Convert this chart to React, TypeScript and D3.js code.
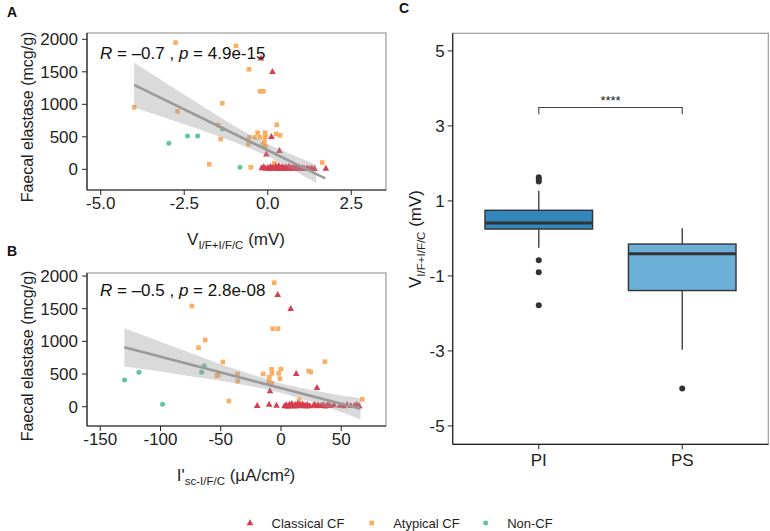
import React from 'react';
import * as d3 from 'd3';

// ---------------- Data ----------------
// Panel A: V (mV) vs faecal elastase (mcg/g)
const classicalA: [number, number][] = [
  [-0.2, 1710], [0.14, 1502], [0.11, 502], [0.35, 286], [-0.04, 231],
  [-0.18, 20], [-0.12, 35], [-0.06, 15], [0.0, 25], [0.04, 10], [0.08, 40], [0.12, 18],
  [0.16, 30], [0.2, 12], [0.24, 45], [0.27, 22], [0.3, 8], [0.33, 55], [0.36, 30],
  [0.4, 15], [0.43, 40], [0.46, 20], [0.5, 10], [0.53, 35], [0.56, 25], [0.6, 12],
  [0.63, 45], [0.66, 20], [0.7, 30], [0.74, 10], [0.78, 38], [0.82, 15], [0.86, 25],
  [0.9, 8], [0.95, 30], [1.0, 15], [1.05, 22], [1.1, 10], [1.18, 20], [1.25, 12],
  [1.32, 18], [1.4, 8], [1.74, 15],
];
const atypicalA: [number, number][] = [
  [-2.76, 1949], [-0.95, 1898], [-0.56, 1539], [-0.23, 1200], [-0.13, 1200],
  [-4.0, 954], [-2.7, 892], [-1.36, 1015], [-1.48, 681], [-1.41, 466], [-1.75, 77],
  [-0.51, 31], [0.2, 92], [1.63, 105], [-0.55, 492], [-0.58, 385], [-0.38, 492],
  [-0.3, 563], [-0.23, 492], [-0.08, 563], [-0.07, 502], [-0.1, 431], [-0.15, 374],
  [-0.07, 358], [0.27, 686], [0.25, 543], [0.37, 523],
];
const nonCfA: [number, number][] = [
  [-2.96, 400], [-2.4, 512], [-2.1, 512], [-1.36, 620], [-0.83, 31],
];
const fitAx = [-4.0, 1.72];
const fitAy = [1298, -139];
const bandAx = [-4, -3, -2, -1, 0, 1, 1.45];
const bandAlo = [952, 781, 606, 422, 204, -80, -210];
const bandAhi = [1644, 1313, 986, 668, 384, 166, 65];

// Panel B: I'sc (µA/cm²) vs faecal elastase (mcg/g)
const classicalB: [number, number][] = [
  [-2.7, 1714], [8.1, 1500], [12.7, 505], [29.9, 291], [-9.1, 240],
  [-19.7, 15], [-9.8, 35], [-3.7, 20],
  [3, 10], [4.5, 25], [6, 5], [7, 35], [8, 15], [9, 45], [10, 20], [11, 8], [12, 30],
  [13, 12], [14, 50], [15, 18], [16, 28], [17, 10], [18, 40], [19, 15], [20, 22],
  [21, 8], [22, 30], [24, 12], [27, 20], [28, 35], [30, 10], [31, 25], [33, 15],
  [35, 30], [37, 8], [39, 40], [41, 15], [44, 25], [49, 20], [52, 10], [55, 30],
  [58, 15], [61, 20], [63, 35], [65, 10],
];
const atypicalB: [number, number][] = [
  [-5.6, 1898], [-73.9, 1541], [-6.9, 1194], [-2.5, 1194], [-62.9, 1021],
  [-68.4, 903], [-48.2, 684], [-53.2, 475], [-52, 490], [-36, 500], [-36, 393],
  [-43.2, 87], [-14.7, 500], [-7.7, 572], [-7.5, 511], [-9.7, 450], [-10, 383],
  [-7.7, 358], [-1.9, 511], [0, 577], [-0.8, 429], [23, 546], [24.7, 531],
  [15.2, 103], [36.5, 689], [67.5, 113], [8, 20], [10, 15],
];
const nonCfB: [number, number][] = [
  [-129.8, 409], [-117.9, 526], [-98.3, 37], [-65.9, 526], [-63.7, 628],
];
const fitBx = [-130, 66];
const fitBy = [909, -32];
const bandBx = [-130, -100, -75, -50, -25, 0, 25, 50, 66];
const bandBlo = [616, 537, 468, 399, 315, 215, 75, -81, -195];
const bandBhi = [1202, 993, 822, 651, 495, 355, 255, 171, 131];

// Panel C: boxplot
const groupsC = ['PI', 'PS'];
const q1C = [0.25, -1.39];
const medianC = [0.41, -0.41];
const q3C = [0.75, -0.15];
const whiskerLoC = [-0.25, -2.97];
const whiskerHiC = [1.27, 0.27];
const outliersC: number[][] = [
  [1.63, 1.57, 1.52, -0.58, -0.9, -1.78],
  [-4.0],
];
const fillC = ['#3288BD', '#6BAED6'];

const yTicksScatter = [0, 500, 1000, 1500, 2000];
const xTicksA = [-5, -2.5, 0, 2.5];
const xTicksB = [-150, -100, -50, 0, 50];
const yTicksC = [-5, -3, -1, 1, 3, 5];

const legendLabels = ['Classical CF', 'Atypical CF', 'Non-CF'];

// ---------------- Styling ----------------
const FONT = '"Liberation Sans", Arial, Helvetica, sans-serif';
const COL = { classical: '#D53E4F', atypical: '#FDAE61', non: '#66C2A5' };
const TXT = '#1e1e1e';

function tri(cx: number, cy: number, s: number) {
  return `M${cx},${cy - s * 0.62}L${cx + s * 0.55},${cy + s * 0.38}L${cx - s * 0.55},${cy + s * 0.38}Z`;
}

function hy(v: string) {
  return v.replace('\u2212', '-');
}

type PanelProps = {
  left: number; right: number; top: number; bottom: number;
  xDomain: [number, number]; yDomain: [number, number];
  xTicks: number[]; xFmt: (v: number) => string;
  classical: [number, number][]; atypical: [number, number][]; non: [number, number][];
  fitX: number[]; fitY: number[]; bandX: number[]; bandLo: number[]; bandHi: number[];
  rText: string; pText: string; annY: number;
};

function ScatterPanel(p: PanelProps) {
  const xs = d3.scaleLinear().domain(p.xDomain).range([p.left, p.right]);
  const ys = d3.scaleLinear().domain(p.yDomain).range([p.bottom, p.top]);
  const band = p.bandX.map((x, i) => ({ x, lo: p.bandLo[i], hi: p.bandHi[i] }));
  const fit = p.fitX.map((x, i) => ({ x, y: p.fitY[i] }));
  const area = d3.area<{ x: number; lo: number; hi: number }>()
    .x(d => xs(d.x)).y0(d => ys(d.lo)).y1(d => ys(d.hi));
  const line = d3.line<{ x: number; y: number }>().x(d => xs(d.x)).y(d => ys(d.y));
  return (
    <g>
      <rect x={p.left} y={p.top} width={p.right - p.left} height={p.bottom - p.top}
        fill="none" stroke="#9a9a9a" strokeWidth={1.2} />
      {p.atypical.map((d, i) => (
        <rect key={'a' + i} x={xs(d[0]) - 2.3} y={ys(d[1]) - 2.3} width={4.6} height={4.6} fill={COL.atypical} />
      ))}
      {p.non.map((d, i) => (
        <circle key={'n' + i} cx={xs(d[0])} cy={ys(d[1])} r={2.5} fill={COL.non} />
      ))}
      {p.classical.map((d, i) => (
        <path key={'c' + i} d={tri(xs(d[0]), ys(d[1]), 6)} fill={COL.classical} />
      ))}
      <path d={area(band) || ''} fill="#9e9e9e" fillOpacity={0.38} />
      <path d={line(fit) || ''} stroke="#9a9a9a" strokeWidth={2.6} fill="none" />
      <line x1={p.left} x2={p.left} y1={p.top} y2={p.bottom} stroke="#222" strokeWidth={1.2} />
      <line x1={p.left} x2={p.right} y1={p.bottom} y2={p.bottom} stroke="#222" strokeWidth={1.2} />
      {yTicksScatter.map(t => (
        <g key={'yt' + t}>
          <line x1={p.left - 5} x2={p.left} y1={ys(t)} y2={ys(t)} stroke="#222" />
          <text x={p.left - 9} y={ys(t) + 6} textAnchor="end" fontSize={17} fill={TXT}>{t}</text>
        </g>
      ))}
      {p.xTicks.map(t => (
        <g key={'xt' + t}>
          <line x1={xs(t)} x2={xs(t)} y1={p.bottom} y2={p.bottom + 5} stroke="#222" />
          <text x={xs(t)} y={p.bottom + 19} textAnchor="middle" fontSize={17} fill={TXT}>{p.xFmt(t)}</text>
        </g>
      ))}
      <text x={100} y={p.annY} fontSize={17} fill="#111">
        <tspan fontStyle="italic">R</tspan>{' = '}{p.rText}{' , '}<tspan fontStyle="italic">p</tspan>{' = '}{p.pText}
      </text>
    </g>
  );
}

function BoxPanel() {
  const left = 452.7, right = 768.3, top = 33.3, bottom = 444.3;
  const xs = d3.scalePoint<string>().domain(groupsC).range([left, right]).padding(0.6);
  const ys = d3.scaleLinear().domain([-5.49, 5.47]).range([bottom, top]);
  const bw = xs.step() * 0.75;
  const sigY = 3.49, sigDrop = 3.31;
  const xPI = xs('PI') as number, xPS = xs('PS') as number;
  return (
    <g>
      <rect x={left} y={top} width={right - left} height={bottom - top} fill="none" stroke="#9a9a9a" strokeWidth={1.2} />
      {groupsC.map((g, i) => {
        const cx = xs(g) as number;
        return (
          <g key={g}>
            <line x1={cx} x2={cx} y1={ys(whiskerHiC[i])} y2={ys(q3C[i])} stroke="#333" strokeWidth={1.3} />
            <line x1={cx} x2={cx} y1={ys(q1C[i])} y2={ys(whiskerLoC[i])} stroke="#333" strokeWidth={1.3} />
            <rect x={cx - bw / 2} y={ys(q3C[i])} width={bw} height={ys(q1C[i]) - ys(q3C[i])}
              fill={fillC[i]} stroke="#333" strokeWidth={1.4} />
            <line x1={cx - bw / 2} x2={cx + bw / 2} y1={ys(medianC[i])} y2={ys(medianC[i])} stroke="#333" strokeWidth={3} />
            {outliersC[i].map((o, j) => (
              <circle key={j} cx={cx} cy={ys(o)} r={3} fill="#333" />
            ))}
          </g>
        );
      })}
      <path d={`M${xPI},${ys(sigDrop)}V${ys(sigY)}H${xPS}V${ys(sigDrop)}`} fill="none" stroke="#444" strokeWidth={1.1} />
      <text x={(xPI + xPS) / 2} y={ys(sigY) - 3} textAnchor="middle" fontSize={13} fill="#222">****</text>
      <line x1={left} x2={left} y1={top} y2={bottom} stroke="#222" strokeWidth={1.2} />
      <line x1={left} x2={right} y1={bottom} y2={bottom} stroke="#222" strokeWidth={1.2} />
      {yTicksC.map(t => (
        <g key={'c' + t}>
          <line x1={left - 5} x2={left} y1={ys(t)} y2={ys(t)} stroke="#222" />
          <text x={left - 8} y={ys(t) + 6} textAnchor="end" fontSize={17} fill={TXT}>{hy(String(t))}</text>
        </g>
      ))}
      {groupsC.map(g => (
        <g key={'x' + g}>
          <line x1={xs(g) as number} x2={xs(g) as number} y1={bottom} y2={bottom + 5} stroke="#222" />
          <text x={xs(g) as number} y={bottom + 22} textAnchor="middle" fontSize={17} fill={TXT}>{g}</text>
        </g>
      ))}
      <text transform={`translate(421,239) rotate(-90)`} textAnchor="middle" fontSize={17} fill={TXT}>
        V<tspan fontSize={11.5} dy={4}>I/F+I/F/C</tspan><tspan dy={-4}> (mV)</tspan>
      </text>
    </g>
  );
}

export default function App() {
  const fmtA = (v: number) => hy(d3.format('.1f')(v));
  const fmtB = (v: number) => hy(d3.format('d')(v));
  const legendX = [250, 371.7, 485.7];
  return (
    <svg width={770} height={531} style={{ position: 'absolute', left: 0, top: 0 }} fontFamily={FONT}>
      <rect width={770} height={531} fill="white" />
      <text x={7} y={17} fontSize={14} fontWeight="bold" fill="#111">A</text>
      <text x={7} y={256} fontSize={14} fontWeight="bold" fill="#111">B</text>
      <text x={399} y={13} fontSize={14} fontWeight="bold" fill="#111">C</text>

      <ScatterPanel left={87} right={386} top={33} bottom={190}
        xDomain={[-5.41, 3.54]} yDomain={[-318, 2097]} xTicks={xTicksA} xFmt={fmtA}
        classical={classicalA} atypical={atypicalA} non={nonCfA}
        fitX={fitAx} fitY={fitAy} bandX={bandAx} bandLo={bandAlo} bandHi={bandAhi}
        rText={'\u20130.7'} pText="4.9e-15" annY={59} />
      <ScatterPanel left={87} right={386} top={273} bottom={426}
        xDomain={[-161, 87.2]} yDomain={[-295, 2046]} xTicks={xTicksB} xFmt={fmtB}
        classical={classicalB} atypical={atypicalB} non={nonCfB}
        fitX={fitBx} fitY={fitBy} bandX={bandBx} bandLo={bandBlo} bandHi={bandBhi}
        rText={'\u20130.5'} pText="2.8e-08" annY={296} />

      <text transform="translate(33,117) rotate(-90)" textAnchor="middle" fontSize={16} fill={TXT}>Faecal elastase (mcg/g)</text>
      <text transform="translate(33,356) rotate(-90)" textAnchor="middle" fontSize={16} fill={TXT}>Faecal elastase (mcg/g)</text>

      <text x={236} y={245} textAnchor="middle" fontSize={17} fill={TXT}>
        V<tspan fontSize={11.5} dy={4}>I/F+I/F/C</tspan><tspan dy={-4}> (mV)</tspan>
      </text>
      <text x={236} y={481} textAnchor="middle" fontSize={17} fill={TXT}>
        I'<tspan fontSize={11.5} dy={4}>sc-I/F/C</tspan><tspan dy={-4}> (µA/cm²)</tspan>
      </text>

      <BoxPanel />

      <path d={tri(legendX[0], 523, 6)} fill={COL.classical} />
      <rect x={legendX[1] - 2.3} y={523 - 2.3} width={4.6} height={4.6} fill={COL.atypical} />
      <circle cx={legendX[2]} cy={523} r={2.5} fill={COL.non} />
      {legendLabels.map((l, i) => (
        <text key={l} x={legendX[i] + 21.5} y={527.5} fontSize={13} fill={TXT}>{l}</text>
      ))}
    </svg>
  );
}
